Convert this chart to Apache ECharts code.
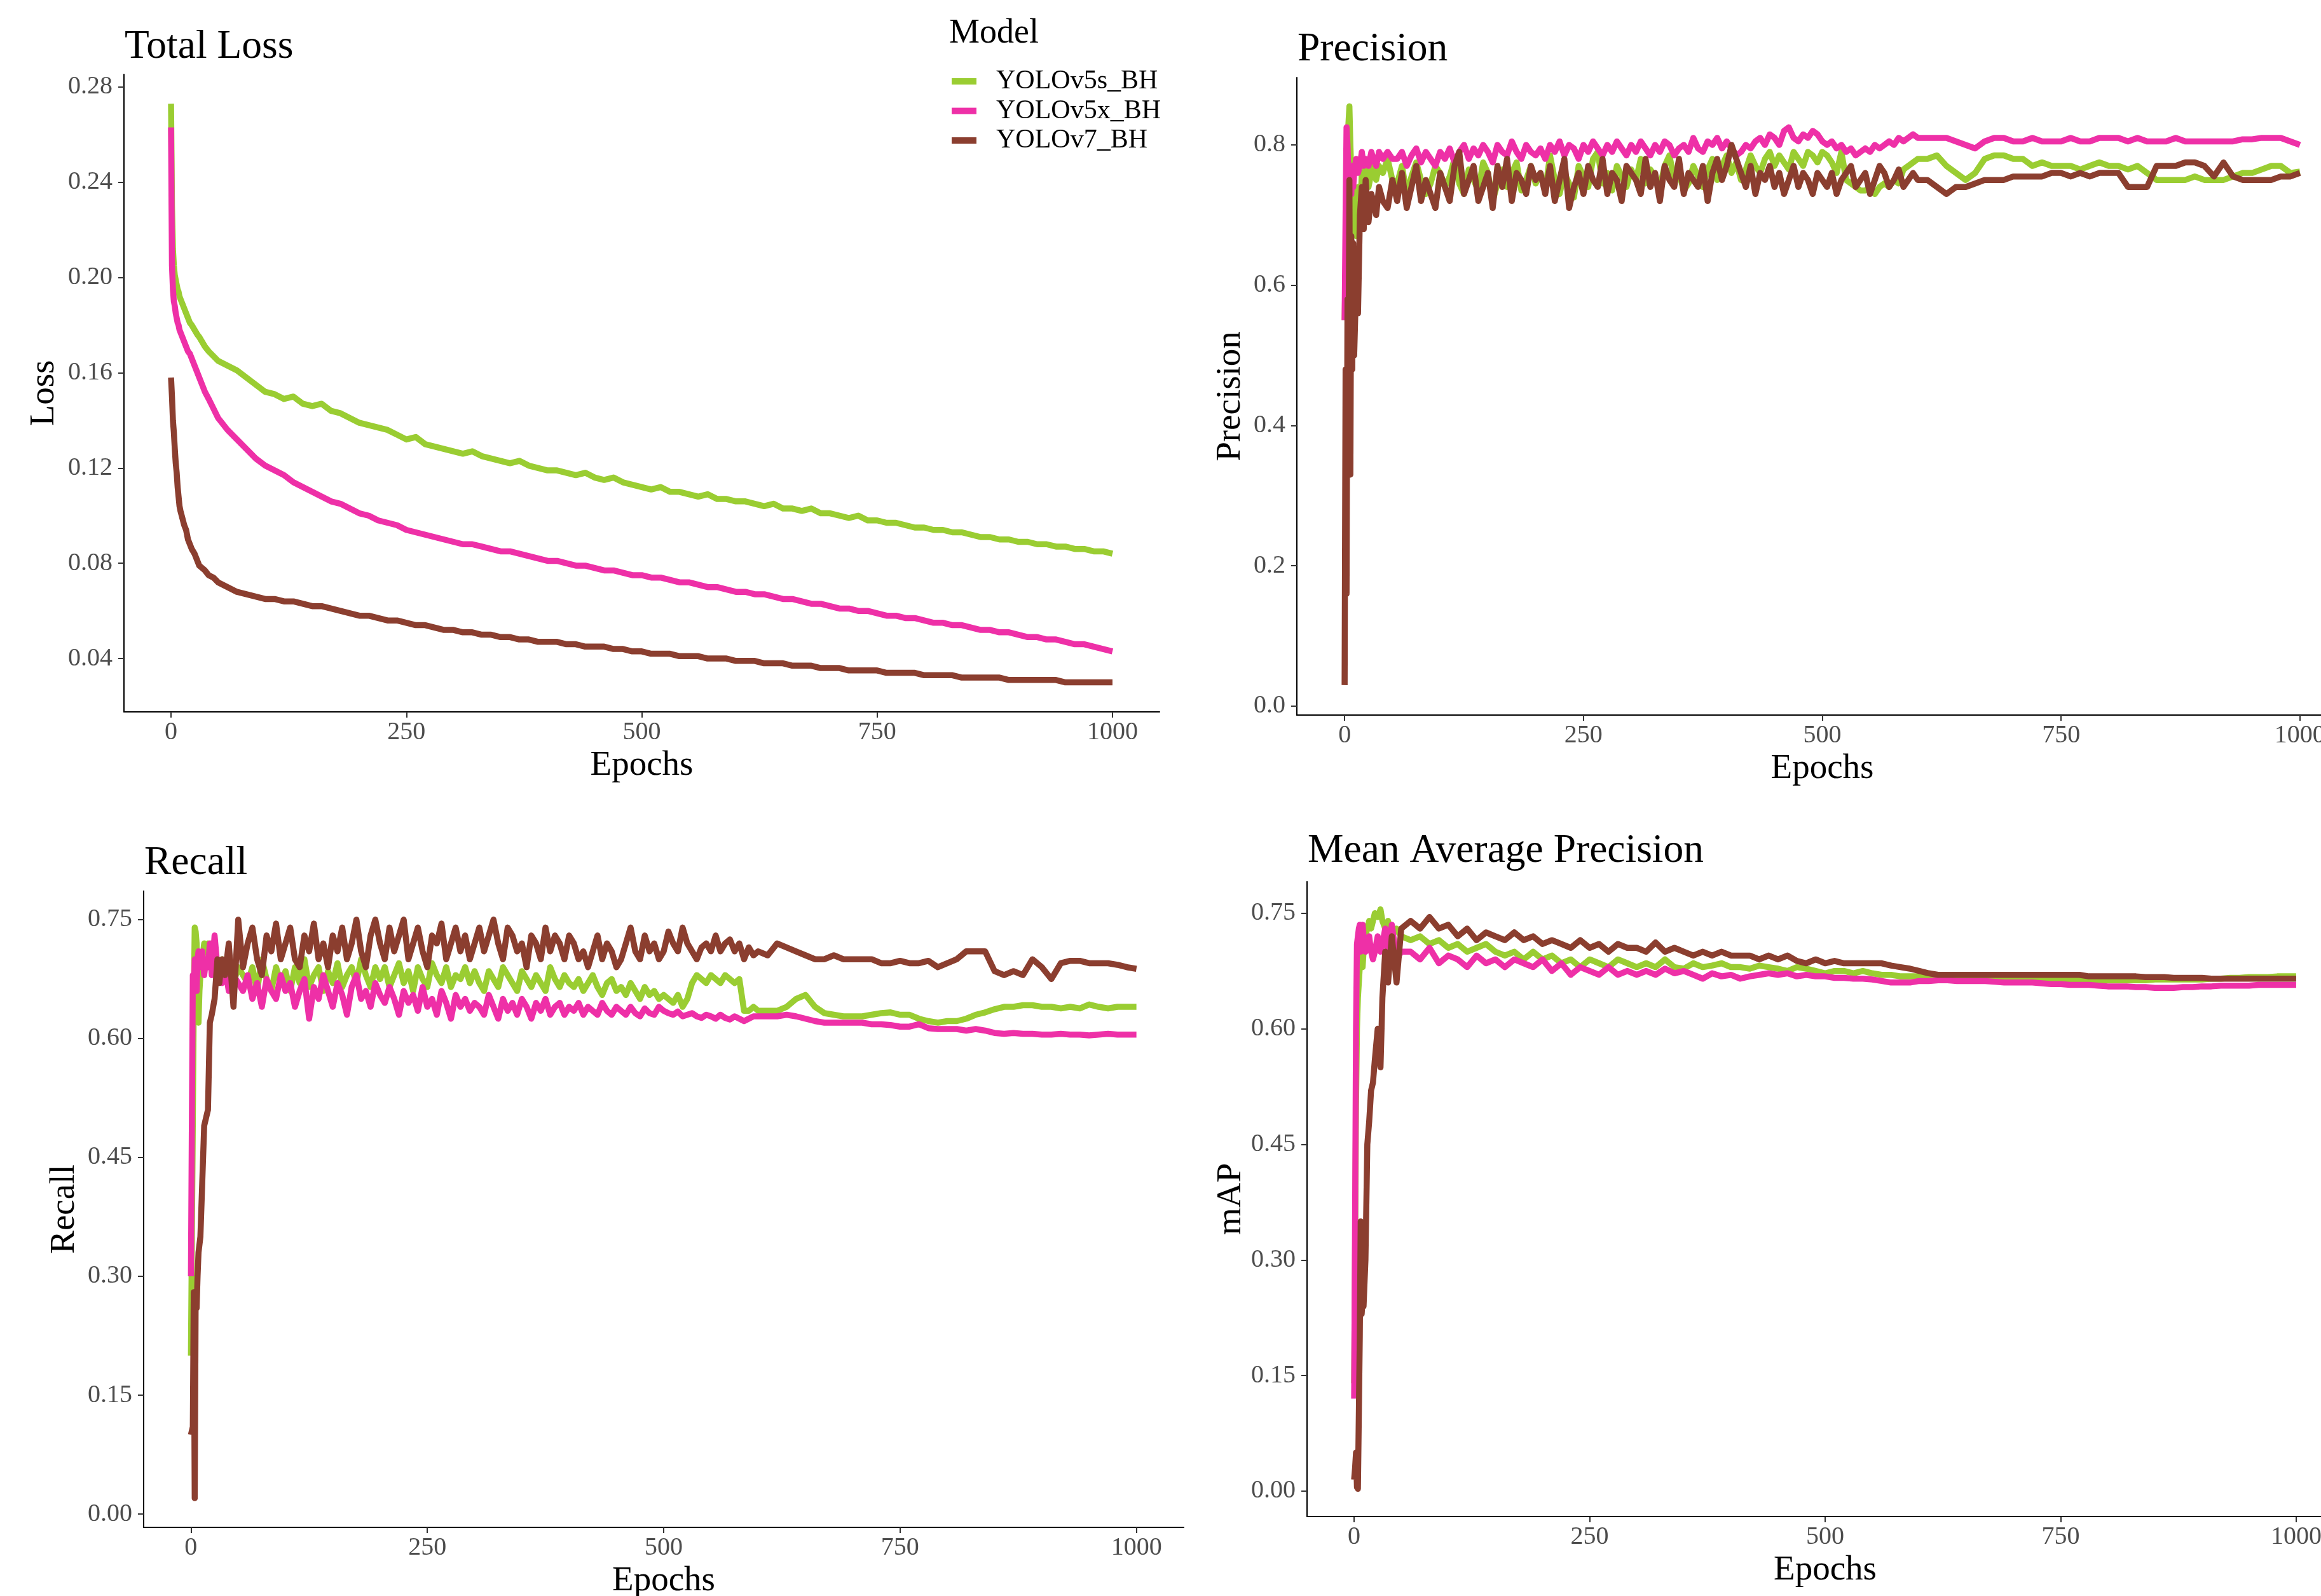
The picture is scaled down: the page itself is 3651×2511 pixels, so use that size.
<!DOCTYPE html>
<html>
<head>
<meta charset="utf-8">
<script src="https://cdn.jsdelivr.net/npm/echarts@6/dist/echarts.min.js"></script>
<style>
html,body{margin:0;padding:0;background:#ffffff;}
#chart{width:3651px;height:2511px;}
</style>
</head>
<body>
<div id="chart"></div>
<script>
// Training curves of three detectors over 1000 epochs
const MODELS = ['YOLOv5s_BH', 'YOLOv5x_BH', 'YOLOv7_BH'];
const COLORS = ['#9ACD32', '#EE30A7', '#8B3E2F'];

// Epochs sampled for the loss and mAP curves
const EPOCHS = [
  0,1,2,3,4,5,6,7,8,9, 10,12,14,16,18,20,22,25,28,30, 33,36,40,45,50,
  60,70,80,90,100,
  110,120,130,140,150,160,170,180,190,200,
  210,220,230,240,250,260,270,280,290,300,
  310,320,330,340,350,360,370,380,390,400,
  410,420,430,440,450,460,470,480,490,500,
  510,520,530,540,550,560,570,580,590,600,
  610,620,630,640,650,660,670,680,690,700,
  710,720,730,740,750,760,770,780,790,800,
  810,820,830,840,850,860,870,880,890,900,
  910,920,930,940,950,960,970,980,990,1000
];

// Epochs sampled for the noisier precision and recall curves
const EPOCHS_FINE = [
  0,1,2,3,4,5,6,7,8,9, 10,12,14,16,18,20,22,25,28,30, 33,36,40,45,50,
  55,60,65,70,75,80,85,90,95,100,
  105,110,115,120,125,130,135,140,145,150,155,160,165,170,175,180,185,190,195,200,
  205,210,215,220,225,230,235,240,245,250,255,260,265,270,275,280,285,290,295,300,
  305,310,315,320,325,330,335,340,345,350,355,360,365,370,375,380,385,390,395,400,
  405,410,415,420,425,430,435,440,445,450,455,460,465,470,475,480,485,490,495,500,
  505,510,515,520,525,530,535,540,545,550,555,560,565,570,575,580,585,590,595,600,
  610,620,630,640,650,660,670,680,690,700,
  710,720,730,740,750,760,770,780,790,800,
  810,820,830,840,850,860,870,880,890,900,
  910,920,930,940,950,960,970,980,990,1000
];

// Total loss
const LOSS_V5S = [
  0.273,0.230,0.212,0.205,0.201,0.199,0.197,0.195,0.194,0.192, 0.191,0.189,0.187,0.185,0.183,0.181,0.180,0.178,0.176,0.175, 0.173,0.171,0.169,0.167,0.165,
  0.163,0.161,0.158,0.155,0.152,
  0.151,0.149,0.150,0.147,0.146,0.147,0.144,0.143,0.141,0.139,
  0.138,0.137,0.136,0.134,0.132,0.133,0.130,0.129,0.128,0.127,
  0.126,0.127,0.125,0.124,0.123,0.122,0.123,0.121,0.120,0.119,
  0.119,0.118,0.117,0.118,0.116,0.115,0.116,0.114,0.113,0.112,
  0.111,0.112,0.110,0.110,0.109,0.108,0.109,0.107,0.107,0.106,
  0.106,0.105,0.104,0.105,0.103,0.103,0.102,0.103,0.101,0.101,
  0.100,0.099,0.100,0.098,0.098,0.097,0.097,0.096,0.095,0.095,
  0.094,0.094,0.093,0.093,0.092,0.091,0.091,0.090,0.090,0.089,
  0.089,0.088,0.088,0.087,0.087,0.086,0.086,0.085,0.085,0.084
];
const LOSS_V5X = [
  0.263,0.205,0.195,0.190,0.188,0.185,0.183,0.181,0.180,0.178, 0.177,0.175,0.173,0.171,0.169,0.168,0.166,0.163,0.160,0.158, 0.155,0.152,0.149,0.145,0.141,
  0.136,0.132,0.128,0.124,0.121,
  0.119,0.117,0.114,0.112,0.110,0.108,0.106,0.105,0.103,0.101,
  0.100,0.098,0.097,0.096,0.094,0.093,0.092,0.091,0.090,0.089,
  0.088,0.088,0.087,0.086,0.085,0.085,0.084,0.083,0.082,0.081,
  0.081,0.080,0.079,0.079,0.078,0.077,0.077,0.076,0.075,0.075,
  0.074,0.074,0.073,0.072,0.072,0.071,0.070,0.070,0.069,0.068,
  0.068,0.067,0.067,0.066,0.065,0.065,0.064,0.063,0.063,0.062,
  0.061,0.061,0.060,0.060,0.059,0.058,0.058,0.057,0.057,0.056,
  0.055,0.055,0.054,0.054,0.053,0.052,0.052,0.051,0.051,0.050,
  0.049,0.049,0.048,0.048,0.047,0.046,0.046,0.045,0.044,0.043
];
const LOSS_V7 = [
  0.158,0.150,0.140,0.135,0.128,0.122,0.118,0.112,0.108,0.104, 0.102,0.099,0.096,0.094,0.090,0.088,0.086,0.084,0.081,0.079, 0.078,0.077,0.075,0.074,0.072,
  0.070,0.068,0.067,0.066,0.065,
  0.065,0.064,0.064,0.063,0.062,0.062,0.061,0.060,0.059,0.058,
  0.058,0.057,0.056,0.056,0.055,0.054,0.054,0.053,0.052,0.052,
  0.051,0.051,0.050,0.050,0.049,0.049,0.048,0.048,0.047,0.047,
  0.047,0.046,0.046,0.045,0.045,0.045,0.044,0.044,0.043,0.043,
  0.042,0.042,0.042,0.041,0.041,0.041,0.040,0.040,0.040,0.039,
  0.039,0.039,0.038,0.038,0.038,0.037,0.037,0.037,0.036,0.036,
  0.036,0.035,0.035,0.035,0.035,0.034,0.034,0.034,0.034,0.033,
  0.033,0.033,0.033,0.032,0.032,0.032,0.032,0.032,0.031,0.031,
  0.031,0.031,0.031,0.031,0.030,0.030,0.030,0.030,0.030,0.030
];

// Precision (sampled on EPOCHS_FINE)
const PREC_V5S = [
  0.550,0.620,0.700,0.780,0.830,0.855,0.800,0.760,0.720,0.700, 0.680,0.670,0.740,0.690,0.760,0.750,0.770,0.740,0.760,0.770, 0.750,0.770,0.760,0.780,0.750,
  0.745,0.770,0.730,0.755,0.775,0.750,0.730,0.745,0.770,0.760,
  0.740,0.755,0.780,0.745,0.730,0.765,0.750,0.735,0.775,0.760, 0.720,0.745,0.765,0.740,0.760,0.775,0.735,0.750,0.770,0.745,
  0.760,0.735,0.785,0.750,0.730,0.760,0.745,0.725,0.770,0.755, 0.740,0.780,0.790,0.745,0.760,0.735,0.770,0.755,0.740,0.765,
  0.750,0.780,0.745,0.765,0.755,0.740,0.770,0.785,0.750,0.760, 0.735,0.745,0.770,0.755,0.740,0.765,0.780,0.750,0.770,0.785,
  0.760,0.775,0.750,0.765,0.785,0.770,0.760,0.780,0.790,0.770, 0.785,0.775,0.765,0.790,0.780,0.770,0.790,0.785,0.775,0.790,
  0.785,0.775,0.760,0.790,0.750,0.745,0.740,0.735,0.735,0.740, 0.730,0.740,0.745,0.740,0.750,0.745,0.765,0.770,0.775,0.780,
  0.780,0.785,0.770,0.760,0.750,0.760,0.780,0.785,0.785,0.780,
  0.780,0.770,0.775,0.770,0.770,0.770,0.765,0.770,0.775,0.770,
  0.770,0.765,0.770,0.760,0.750,0.750,0.750,0.750,0.755,0.750,
  0.750,0.750,0.755,0.760,0.760,0.765,0.770,0.770,0.760,0.762
];
const PREC_V5X = [
  0.550,0.700,0.825,0.800,0.760,0.740,0.750,0.730,0.770,0.740, 0.760,0.780,0.760,0.770,0.790,0.770,0.780,0.770,0.790,0.780, 0.770,0.790,0.780,0.790,0.780,
  0.780,0.790,0.770,0.785,0.795,0.775,0.790,0.780,0.770,0.790,
  0.780,0.795,0.775,0.790,0.800,0.780,0.795,0.785,0.800,0.790, 0.775,0.800,0.790,0.785,0.805,0.790,0.780,0.800,0.790,0.785,
  0.795,0.780,0.800,0.790,0.805,0.785,0.800,0.795,0.780,0.800, 0.790,0.805,0.795,0.785,0.800,0.790,0.805,0.795,0.785,0.800,
  0.790,0.805,0.795,0.785,0.800,0.790,0.805,0.800,0.785,0.795, 0.800,0.790,0.810,0.795,0.790,0.805,0.800,0.810,0.795,0.805,
  0.795,0.785,0.790,0.800,0.795,0.805,0.810,0.800,0.815,0.810, 0.800,0.820,0.825,0.810,0.805,0.815,0.810,0.820,0.815,0.805,
  0.800,0.805,0.795,0.800,0.790,0.795,0.785,0.790,0.795,0.790, 0.800,0.795,0.800,0.805,0.800,0.810,0.805,0.810,0.815,0.810,
  0.810,0.810,0.810,0.805,0.800,0.795,0.805,0.810,0.810,0.805,
  0.805,0.810,0.805,0.805,0.805,0.810,0.805,0.805,0.810,0.810,
  0.810,0.805,0.810,0.805,0.805,0.805,0.810,0.805,0.805,0.805,
  0.805,0.805,0.805,0.808,0.808,0.810,0.810,0.810,0.805,0.800
];
const PREC_V7 = [
  0.030,0.480,0.160,0.580,0.450,0.750,0.330,0.670,0.480,0.660, 0.500,0.600,0.560,0.700,0.740,0.680,0.750,0.690,0.730,0.720, 0.700,0.740,0.720,0.710,0.750,
  0.720,0.760,0.710,0.740,0.770,0.720,0.750,0.730,0.710,0.760,
  0.740,0.720,0.770,0.790,0.730,0.750,0.770,0.720,0.740,0.760, 0.710,0.770,0.740,0.780,0.720,0.760,0.750,0.730,0.770,0.750,
  0.760,0.730,0.770,0.720,0.750,0.780,0.710,0.740,0.760,0.730, 0.770,0.750,0.740,0.780,0.730,0.760,0.750,0.720,0.770,0.760,
  0.750,0.730,0.780,0.740,0.760,0.720,0.770,0.750,0.740,0.780, 0.730,0.760,0.750,0.740,0.770,0.720,0.760,0.780,0.750,0.770,
  0.800,0.780,0.760,0.740,0.770,0.730,0.760,0.750,0.770,0.740, 0.760,0.730,0.750,0.770,0.740,0.760,0.750,0.730,0.760,0.750,
  0.740,0.760,0.730,0.750,0.760,0.770,0.740,0.750,0.760,0.730, 0.750,0.770,0.760,0.740,0.750,0.765,0.740,0.750,0.760,0.750,
  0.750,0.740,0.730,0.740,0.740,0.745,0.750,0.750,0.750,0.755,
  0.755,0.755,0.755,0.760,0.760,0.755,0.760,0.755,0.760,0.760,
  0.760,0.740,0.740,0.740,0.770,0.770,0.770,0.775,0.775,0.770,
  0.755,0.775,0.755,0.750,0.750,0.750,0.750,0.755,0.755,0.760
];

// Recall (sampled on EPOCHS_FINE)
const RECALL_V5S = [
  0.200,0.350,0.500,0.650,0.740,0.735,0.720,0.630,0.620,0.660, 0.680,0.700,0.720,0.710,0.720,0.690,0.720,0.700,0.690,0.680, 0.700,0.680,0.690,0.670,0.690,
  0.680,0.670,0.690,0.660,0.700,0.675,0.660,0.690,0.670,0.685,
  0.660,0.690,0.670,0.700,0.665,0.680,0.690,0.660,0.685,0.670, 0.695,0.665,0.680,0.690,0.670,0.700,0.680,0.665,0.690,0.675,
  0.690,0.665,0.680,0.695,0.670,0.685,0.660,0.690,0.675,0.665, 0.695,0.680,0.670,0.690,0.665,0.680,0.675,0.690,0.670,0.685,
  0.670,0.660,0.685,0.675,0.665,0.690,0.680,0.670,0.660,0.685, 0.675,0.665,0.680,0.670,0.660,0.690,0.675,0.665,0.680,0.670,
  0.665,0.675,0.660,0.670,0.680,0.665,0.655,0.670,0.675,0.660, 0.665,0.655,0.670,0.660,0.650,0.665,0.655,0.660,0.650,0.655,
  0.650,0.645,0.655,0.640,0.650,0.670,0.680,0.675,0.670,0.680, 0.675,0.670,0.680,0.675,0.670,0.675,0.635,0.635,0.640,0.635,
  0.635,0.635,0.640,0.650,0.655,0.640,0.632,0.630,0.628,0.628,
  0.628,0.630,0.632,0.633,0.630,0.630,0.625,0.622,0.620,0.622,
  0.622,0.625,0.630,0.633,0.637,0.640,0.640,0.642,0.642,0.640,
  0.640,0.638,0.640,0.638,0.643,0.640,0.638,0.640,0.640,0.640
];
const RECALL_V5X = [
  0.300,0.500,0.680,0.660,0.700,0.690,0.660,0.700,0.710,0.690, 0.700,0.710,0.680,0.700,0.690,0.720,0.680,0.730,0.690,0.680, 0.670,0.690,0.660,0.680,0.670,
  0.660,0.680,0.650,0.670,0.640,0.675,0.660,0.650,0.680,0.660,
  0.670,0.640,0.660,0.675,0.625,0.665,0.650,0.680,0.660,0.640, 0.670,0.655,0.630,0.665,0.680,0.650,0.660,0.640,0.670,0.655,
  0.645,0.665,0.650,0.630,0.660,0.645,0.655,0.635,0.665,0.640, 0.650,0.630,0.660,0.645,0.625,0.655,0.640,0.650,0.635,0.645,
  0.640,0.630,0.655,0.640,0.625,0.650,0.635,0.645,0.630,0.650, 0.640,0.625,0.645,0.635,0.650,0.630,0.640,0.645,0.630,0.640,
  0.635,0.645,0.630,0.640,0.635,0.630,0.645,0.635,0.630,0.640, 0.635,0.630,0.640,0.632,0.628,0.638,0.632,0.630,0.640,0.635,
  0.632,0.630,0.634,0.628,0.630,0.632,0.628,0.626,0.630,0.628, 0.625,0.630,0.626,0.624,0.628,0.625,0.622,0.625,0.628,0.628,
  0.628,0.628,0.630,0.628,0.625,0.622,0.620,0.620,0.620,0.620,
  0.620,0.618,0.618,0.617,0.615,0.615,0.618,0.613,0.612,0.612,
  0.612,0.610,0.612,0.610,0.607,0.606,0.607,0.606,0.606,0.605,
  0.605,0.606,0.605,0.605,0.604,0.605,0.606,0.605,0.605,0.605
];
const RECALL_V7 = [
  0.100,0.105,0.110,0.280,0.020,0.280,0.260,0.300,0.330,0.340, 0.350,0.420,0.490,0.500,0.510,0.620,0.630,0.650,0.700,0.670, 0.700,0.680,0.720,0.640,0.750,
  0.690,0.720,0.740,0.700,0.680,0.730,0.710,0.745,0.700,0.720,
  0.740,0.700,0.690,0.730,0.710,0.745,0.700,0.720,0.690,0.730, 0.710,0.740,0.700,0.720,0.750,0.710,0.690,0.730,0.750,0.720,
  0.700,0.740,0.710,0.730,0.750,0.700,0.720,0.740,0.710,0.690, 0.730,0.720,0.745,0.700,0.720,0.740,0.710,0.730,0.700,0.720,
  0.740,0.710,0.730,0.750,0.720,0.700,0.740,0.730,0.710,0.720, 0.690,0.730,0.720,0.700,0.740,0.710,0.730,0.720,0.700,0.730,
  0.720,0.700,0.710,0.690,0.710,0.730,0.700,0.720,0.710,0.690, 0.700,0.720,0.740,0.710,0.700,0.730,0.710,0.720,0.700,0.710,
  0.735,0.720,0.710,0.740,0.720,0.710,0.700,0.715,0.720,0.710, 0.730,0.710,0.720,0.725,0.710,0.720,0.700,0.715,0.705,0.710,
  0.705,0.720,0.715,0.710,0.705,0.700,0.700,0.705,0.700,0.700,
  0.700,0.700,0.695,0.695,0.698,0.695,0.695,0.698,0.690,0.695,
  0.700,0.710,0.710,0.710,0.685,0.680,0.685,0.680,0.700,0.690,
  0.675,0.695,0.698,0.698,0.695,0.695,0.695,0.693,0.690,0.688
];

// Mean average precision
const MAP_V5S = [
  0.140,0.300,0.500,0.600,0.640,0.660,0.680,0.700,0.690,0.680, 0.700,0.720,0.730,0.740,0.730,0.740,0.750,0.745,0.755,0.740, 0.730,0.740,0.720,0.730,0.720,
  0.715,0.720,0.710,0.715,0.705,
  0.710,0.700,0.705,0.710,0.700,0.695,0.700,0.690,0.700,0.690,
  0.695,0.685,0.690,0.680,0.690,0.685,0.680,0.690,0.685,0.680,
  0.685,0.680,0.690,0.680,0.678,0.685,0.680,0.682,0.685,0.680,
  0.680,0.678,0.682,0.680,0.678,0.675,0.680,0.678,0.675,0.672,
  0.675,0.675,0.672,0.675,0.672,0.670,0.670,0.668,0.668,0.668,
  0.668,0.668,0.666,0.666,0.666,0.665,0.665,0.665,0.665,0.665,
  0.665,0.665,0.664,0.664,0.664,0.664,0.664,0.663,0.663,0.663,
  0.663,0.663,0.663,0.663,0.664,0.664,0.664,0.664,0.664,0.664,
  0.665,0.665,0.666,0.666,0.667,0.667,0.667,0.668,0.668,0.668
];
const MAP_V5X = [
  0.120,0.350,0.600,0.710,0.720,0.730,0.735,0.700,0.720,0.735, 0.720,0.700,0.710,0.720,0.700,0.690,0.700,0.720,0.700,0.710, 0.730,0.700,0.735,0.690,0.700,
  0.700,0.690,0.705,0.685,0.695,
  0.690,0.680,0.695,0.685,0.690,0.680,0.690,0.685,0.680,0.690,
  0.675,0.685,0.670,0.680,0.675,0.670,0.680,0.670,0.675,0.670,
  0.675,0.670,0.678,0.672,0.675,0.670,0.665,0.672,0.668,0.670,
  0.665,0.668,0.670,0.672,0.670,0.672,0.668,0.670,0.668,0.668,
  0.666,0.666,0.665,0.665,0.664,0.662,0.660,0.660,0.660,0.662,
  0.662,0.663,0.663,0.662,0.662,0.662,0.662,0.661,0.660,0.660,
  0.660,0.660,0.659,0.658,0.658,0.657,0.657,0.657,0.656,0.655,
  0.655,0.655,0.654,0.654,0.653,0.653,0.653,0.654,0.654,0.655,
  0.655,0.656,0.656,0.656,0.656,0.657,0.657,0.657,0.657,0.657
];
const MAP_V7 = [
  0.015,0.030,0.050,0.005,0.003,0.100,0.200,0.350,0.230,0.250, 0.240,0.300,0.450,0.480,0.520,0.530,0.560,0.600,0.550,0.640, 0.700,0.660,0.720,0.660,0.730,
  0.740,0.730,0.745,0.730,0.735,
  0.720,0.730,0.715,0.725,0.720,0.715,0.725,0.715,0.720,0.710,
  0.715,0.710,0.705,0.715,0.705,0.710,0.700,0.710,0.705,0.705,
  0.700,0.712,0.700,0.705,0.700,0.695,0.700,0.695,0.700,0.695,
  0.695,0.695,0.690,0.695,0.690,0.695,0.688,0.685,0.690,0.685,
  0.688,0.685,0.685,0.685,0.685,0.685,0.682,0.680,0.678,0.675,
  0.672,0.670,0.670,0.670,0.670,0.670,0.670,0.670,0.670,0.670,
  0.670,0.670,0.670,0.670,0.670,0.670,0.670,0.668,0.668,0.668,
  0.668,0.668,0.668,0.667,0.667,0.667,0.666,0.666,0.666,0.666,
  0.665,0.665,0.665,0.665,0.665,0.665,0.665,0.665,0.665,0.665
];

// Tick labels
const X_TICKS = [0, 250, 500, 750, 1000];
const LOSS_TICKS = [0.04, 0.08, 0.12, 0.16, 0.20, 0.24, 0.28];
const PREC_TICKS = [0.0, 0.2, 0.4, 0.6, 0.8];
const RECALL_TICKS = [0.00, 0.15, 0.30, 0.45, 0.60, 0.75];
const MAP_TICKS = [0.00, 0.15, 0.30, 0.45, 0.60, 0.75];

const FONT = '"Liberation Serif", "Times New Roman", serif';

// Panel layout (pixel boxes of each plotting area) and axis ranges
const panels = [
  { title: 'Total Loss', yName: 'Loss', ticks: LOSS_TICKS, dec: 2, x: EPOCHS,
    values: [LOSS_V5S, LOSS_V5X, LOSS_V7], yMin: 0.0176, yMax: 0.2853,
    grid: { left: 195, top: 117, width: 1629, height: 1003 },
    titlePos: { left: 196, top: 42 }, yGap: 98 },
  { title: 'Precision', yName: 'Precision', ticks: PREC_TICKS, dec: 1, x: EPOCHS_FINE,
    values: [PREC_V5S, PREC_V5X, PREC_V7], yMin: -0.0127, yMax: 0.896,
    grid: { left: 2040, top: 122, width: 1653, height: 1003 },
    titlePos: { left: 2041, top: 46 }, yGap: 77 },
  { title: 'Recall', yName: 'Recall', ticks: RECALL_TICKS, dec: 2, x: EPOCHS_FINE,
    values: [RECALL_V5S, RECALL_V5X, RECALL_V7], yMin: -0.0168, yMax: 0.786,
    grid: { left: 226, top: 1402, width: 1636, height: 1001 },
    titlePos: { left: 227, top: 1326 }, yGap: 97 },
  { title: 'Mean Average Precision', yName: 'mAP', ticks: MAP_TICKS, dec: 2, x: EPOCHS,
    values: [MAP_V5S, MAP_V5X, MAP_V7], yMin: -0.033, yMax: 0.791,
    grid: { left: 2056, top: 1387, width: 1630, height: 999 },
    titlePos: { left: 2057, top: 1307 }, yGap: 92 }
];

const axisLine = { show: true, onZero: false, lineStyle: { color: '#000000', width: 2 } };
const tickStyle = { color: '#333333', width: 2 };
const labelStyle = { fontFamily: FONT, fontSize: 40, color: '#4D4D4D' };
const nameStyle = { fontFamily: FONT, fontSize: 55, color: '#000000' };

const titles = panels.map(p => ({
  text: p.title, left: p.titlePos.left, top: p.titlePos.top, padding: 0,
  textStyle: { fontFamily: FONT, fontSize: 63.5, fontWeight: 'normal', color: '#000000' }
}));
titles.push({
  text: 'Model', left: 1493, top: 26, padding: 0,
  textStyle: { fontFamily: FONT, fontSize: 54, fontWeight: 'normal', color: '#000000' }
});

// Plot areas may run past the page edge on the right, as drawn
const grids = panels.map(p => Object.assign({ outerBoundsMode: 'none', containLabel: false }, p.grid));

const xAxes = panels.map((p, i) => ({
  type: 'value', gridIndex: i, min: -50, max: 1050,
  name: 'Epochs', nameLocation: 'middle', nameGap: 57, nameTextStyle: nameStyle,
  axisLine: axisLine,
  axisTick: { show: true, length: 9, lineStyle: tickStyle, customValues: X_TICKS },
  axisLabel: Object.assign({ customValues: X_TICKS, margin: 12, hideOverlap: false,
    formatter: v => String(Math.round(v)) }, labelStyle),
  splitLine: { show: false }
}));

const yAxes = panels.map((p, i) => ({
  type: 'value', gridIndex: i, min: p.yMin, max: p.yMax,
  name: p.yName, nameLocation: 'middle', nameRotate: 90, nameGap: p.yGap,
  nameTextStyle: nameStyle,
  axisLine: axisLine,
  axisTick: { show: true, length: 9, lineStyle: tickStyle, customValues: p.ticks },
  axisLabel: Object.assign({ customValues: p.ticks, margin: 18,
    formatter: v => Number(v).toFixed(p.dec) }, labelStyle),
  splitLine: { show: false }
}));

const series = [];
panels.forEach((p, i) => {
  p.values.forEach((vals, k) => {
    series.push({
      type: 'line', name: MODELS[k], xAxisIndex: i, yAxisIndex: i,
      data: p.x.map((e, j) => [e, vals[j]]),
      symbol: 'none', showSymbol: false, clip: true,
      color: COLORS[k],
      lineStyle: { width: 9.5, color: COLORS[k], cap: 'butt', join: 'round' },
      z: 2 + k
    });
  });
});

const chart = echarts.init(document.getElementById('chart'), null, { renderer: 'canvas' });
chart.setOption({
  animation: false,
  backgroundColor: '#ffffff',
  title: titles,
  legend: {
    data: MODELS, orient: 'vertical', left: 1497, top: 107, padding: 0,
    icon: 'rect', itemWidth: 39, itemHeight: 10, itemGap: 4.5,
    textStyle: { fontFamily: FONT, fontSize: 42, color: '#000000', lineHeight: 42,
      padding: [0, 0, 0, 26] }
  },
  grid: grids,
  xAxis: xAxes,
  yAxis: yAxes,
  series: series
});
</script>
</body>
</html>
